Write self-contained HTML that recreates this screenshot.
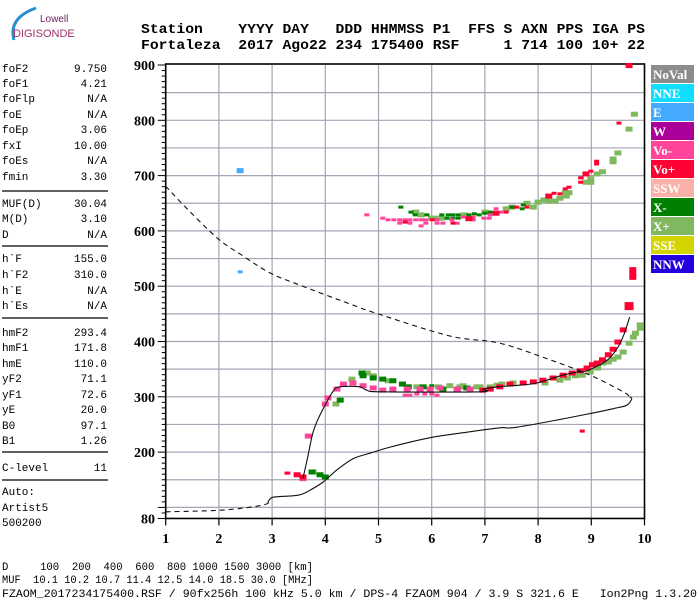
<!DOCTYPE html>
<html><head><meta charset="utf-8"><style>
html,body{margin:0;padding:0;background:#fff;}
svg{display:block;}
.m{font-family:"Liberation Mono",monospace;}
.b{font-family:"Liberation Serif",serif;font-weight:bold;}
</style></head><body>
<svg id="chart" width="700" height="600" viewBox="0 0 700 600" xmlns="http://www.w3.org/2000/svg">
<g>
<path d="M14 40 Q8 18 36 8" stroke="#2a8fd0" stroke-width="3" fill="none"/>
<text x="40" y="22" font-family="Liberation Sans,sans-serif" font-size="10" fill="#702060">Lowell</text>
<text x="13" y="37" font-family="Liberation Sans,sans-serif" font-size="11" fill="#a0306a">DIGISONDE</text>
</g>
<g class="m" font-weight="bold" font-size="14">
<text x="141" y="33" textLength="504" lengthAdjust="spacingAndGlyphs" xml:space="preserve">Station    YYYY DAY   DDD HHMMSS P1  FFS S AXN PPS IGA PS</text>
<text x="141" y="49" textLength="504" lengthAdjust="spacingAndGlyphs" xml:space="preserve">Fortaleza  2017 Ago22 234 175400 RSF     1 714 100 10+ 22</text>
</g>
<g id="side" class="m" font-size="11"></g>
<g id="plot"></g>
<g id="legend"></g>
<g class="m" font-size="11">
<text x="2" y="570" textLength="311" lengthAdjust="spacingAndGlyphs" xml:space="preserve">D     100  200  400  600  800 1000 1500 3000 [km]</text>
<text x="2" y="583" textLength="311" lengthAdjust="spacingAndGlyphs" xml:space="preserve">MUF  10.1 10.2 10.7 11.4 12.5 14.0 18.5 30.0 [MHz]</text>
<text x="2" y="597" textLength="695" lengthAdjust="spacingAndGlyphs" xml:space="preserve">FZAOM_2017234175400.RSF / 90fx256h 100 kHz 5.0 km / DPS-4 FZAOM 904 / 3.9 S 321.6 E   Ion2Png 1.3.20</text>
</g>
</svg>
<script>
const xTicks=[1,2,3,4,5,6,7,8,9,10];
const yTickLabels=[900,800,700,600,500,400,300,200];
const paramNames=["foF2","foF1","foFlp","foE","foEp","fxI","foEs","fmin","MUF(D)","M(D)","D","h`F","h`F2","h`E","h`Es","hmF2","hmF1","hmE","yF2","yF1","yE","B0","B1","C-level","Auto:","Artist5","500200"];
const paramValues=["9.750","4.21","N/A","N/A","3.06","10.00","N/A","3.30","30.04","3.10","N/A","155.0","310.0","N/A","N/A","293.4","171.8","110.0","71.1","72.6","20.0","97.1","1.26","11","","",""];
const legendNames=["NoVal","NNE","E","W","Vo-","Vo+","SSW","X-","X+","SSE","NNW"];
const legendColors=["#8c8c8c","#11ddff","#44aaff","#aa0099","#ff4499","#ff0033","#f8b0a8","#008000","#80b860","#d4d400","#2200dd"];
// traces
const virtF=[3.58,3.67,3.77,3.90,4.14,4.28,4.65,4.78,5.07,6.91,6.97,7.25,7.66,7.98,8.42,8.74,8.84,9.04,9.31,9.49,9.61,9.72];
const virtH=[153,191,236,267,309,318,318,312,309,309,314,318,321,325,338,345,345,352,367,388,412,444];
const realF=[2.92,2.96,3.05,3.49,3.71,3.96,4.22,4.52,4.84,5.22,5.97,6.59,7.28,7.60,8.84,9.48,9.67,9.76,9.72];
const realH=[109,115,119,122,131,146,168,188,198,209,226,235,244,245,267,280,285,296,300];
const dashF=[1.0,1.33,1.97,2.40,2.96,3.52,4.46,4.99,6.34,7.28,8.22,8.98,9.60,9.72];
const dashH=[681,647,587,558,524,502,468,450,410,397,367,339,309,300];
const dashLowF=[1.0,2.03,2.77,2.96];
const dashLowH=[92,95,103,110];
// echoes
const voPlusF=[9.71,9.52,9.10,9.10,8.90,8.99,8.80,8.80,9.78,9.78,9.78,9.71,9.60,9.50,9.41,9.32,9.21,9.11,9.02,8.92,8.79,8.64,8.47,8.28,8.09,7.91,7.72,7.47,7.28,7.10,6.96,8.83,3.28,3.47,3.58,5.50,6.01,6.40,6.70,7.21,7.40,7.60,7.79,8.20,8.30,8.41,8.51,8.58,8.81];
const voPlusH=[899,795,726,721,703,708,696,688,530,522,516,464,421,399,386,376,367,361,358,352,347,343,339,334,330,327,325,323,318,314,312,238,162,159,155,616,620,614,622,632,634,643,643,663,668,667,676,679,696];
const voPlusA=[2,1,1,1,2,1,1,1,2,2,2,3,2,2,2,2,2,2,2,2,2,2,2,2,2,2,2,2,2,2,2,1,1,2,2,1,1,1,2,2,1,1,1,2,1,1,1,1,1];
const voMinusF=[4.78,5.08,5.18,5.29,5.40,5.40,5.50,5.59,5.59,5.70,5.80,5.80,5.89,5.89,6.10,6.10,6.21,6.38,6.48,6.59,6.78,6.78,6.98,7.08,7.21,7.30,7.10,3.68,3.58,4.00,4.05,4.22,4.34,4.52,4.71,4.90,5.08,5.27,5.54,5.78,5.97,6.16,6.48,6.72,5.50,5.59,5.72,5.87,6.00,6.10,3.30];
const voMinusH=[629,623,620,620,620,614,620,620,614,620,620,609,620,614,620,614,614,620,614,625,620,625,623,623,640,634,629,229,152,287,298,314,323,325,320,316,312,314,314,314,314,316,314,314,303,303,305,305,305,303,162];
const voMinusA=[1,1,1,1,1,1,1,1,1,1,1,1,1,1,1,1,1,1,1,1,1,1,1,1,1,1,1,2,2,2,2,2,2,2,2,2,2,2,2,2,2,2,2,2,1,1,1,1,1,1,1];
const xMinusF=[3.75,3.90,4.00,4.28,4.69,4.71,4.90,5.08,5.27,5.45,5.56,5.84,6.21,6.48,6.66,6.00,5.42,5.61,5.69,5.91,6.19,6.31,6.40,6.50,6.29,6.40,6.50,6.70,6.80,6.89,7.00,7.10,7.51,7.72,7.70];
const xMinusH=[164,159,155,294,343,338,334,332,329,323,318,318,314,314,316,320,643,634,629,629,629,629,629,629,623,623,623,629,631,629,632,634,643,647,640];
const xMinusA=[2,2,2,2,2,2,2,2,2,2,2,2,2,2,2,1,1,1,1,1,1,1,1,1,1,1,1,1,1,1,1,1,1,1,1];
const xPlusF=[9.81,9.71,9.50,9.41,9.41,9.21,9.11,8.99,8.99,8.90,8.51,8.58,8.53,8.41,8.32,8.21,8.11,8.00,7.91,7.79,7.51,7.40,7.00,6.61,6.19,6.10,6.00,5.80,5.70,3.77,4.20,4.50,4.79,4.90,5.18,5.45,5.72,6.12,6.34,6.59,6.91,7.23,6.53,6.85,7.10,7.32,7.53,8.13,8.41,8.55,8.70,8.83,8.98,9.12,9.22,9.32,9.41,9.50,9.60,9.71,9.79,9.83,9.92,9.92];
const xPlusH=[811,784,741,730,725,707,703,694,688,688,669,669,663,659,654,654,656,652,643,650,643,640,634,629,623,623,623,629,634,164,287,332,343,338,329,323,318,318,320,320,318,321,318,318,318,323,325,325,330,334,338,339,345,352,361,363,368,372,381,397,408,415,424,430];
const eF=[2.40,2.40];
const eH=[709,526];
const eA=[2,1];

const NS="http://www.w3.org/2000/svg";
function xS(f){return 165.7+(f-1)*53.2;}
function yS(h){return 65+(900-h)*0.553;}
function mk(tag,attrs,parent){const e=document.createElementNS(NS,tag);for(const k in attrs)e.setAttribute(k,attrs[k]);parent.appendChild(e);return e;}

const side=document.getElementById('side');
const rowY=[72,87,102,118,133,149,164,180,207,222,238,262,278,294,309,336,351,367,382,398,413,429,444,471,495,511,526];
paramNames.forEach((n,i)=>{
  const t=mk('text',{x:2,y:rowY[i]},side);t.textContent=n;
  
  
  if(paramValues[i]!==""){
    const v=mk('text',{x:107,y:rowY[i],'text-anchor':'end'},side);v.textContent=paramValues[i];
    
    
  }
});
[191,246,318,452,480].forEach(y=>{
  const l=mk('line',{x1:2,x2:108,y1:y,y2:y,stroke:'#000','stroke-width':1.2},side);
  
  
});

const plot=document.getElementById('plot');
for(let f=2;f<=9;f++){
  const g=mk('line',{x1:xS(f),x2:xS(f),y1:yS(900),y2:yS(80),stroke:'#a4a4b4','stroke-width':1.2},plot);
  
  
}
for(let h=100;h<900;h+=50){
  const g=mk('line',{x1:xS(1),x2:xS(10),y1:yS(h),y2:yS(h),stroke:'#a4a4b4','stroke-width':1.2},plot);
  
  
}
for(let h=80;h<=900;h+=10){
  const major=(h%100===0)||h===80;
  const t=mk('line',{x1:xS(1)-(major?8:4),x2:xS(1),y1:yS(h),y2:yS(h),stroke:'#000','stroke-width':1},plot);
  
  
}
yTickLabels.concat([80]).forEach(h=>{
  const t=mk('text',{x:155,y:yS(h)+5,'text-anchor':'end','font-size':14,class:'b'},plot);t.textContent=h;
  
  
});
xTicks.forEach(f=>{
  const t=mk('line',{x1:xS(f),x2:xS(f),y1:yS(80),y2:yS(80)+7,stroke:'#000','stroke-width':1.2},plot);
  
  
  const l=mk('text',{x:xS(f),y:543,'text-anchor':'middle','font-size':14,class:'b'},plot);l.textContent=f;
  
  
});
const fr=mk('rect',{x:xS(1),y:yS(900)-1,width:xS(10)-xS(1),height:yS(80)-yS(900)+1,fill:'none',stroke:'#000','stroke-width':1.6},plot);



function line(F,H,name,dash){
  const P=F.map((f,i)=>[xS(f),yS(H[i])]);
  let d='M'+P[0][0].toFixed(1)+' '+P[0][1].toFixed(1);
  for(let i=0;i<P.length-1;i++){
    const p0=P[Math.max(0,i-1)],p1=P[i],p2=P[i+1],p3=P[Math.min(P.length-1,i+2)];
    const c1=[p1[0]+(p2[0]-p0[0])/6,p1[1]+(p2[1]-p0[1])/6];
    const c2=[p2[0]-(p3[0]-p1[0])/6,p2[1]-(p3[1]-p1[1])/6];
    d+=' C'+c1[0].toFixed(1)+' '+c1[1].toFixed(1)+' '+c2[0].toFixed(1)+' '+c2[1].toFixed(1)+' '+p2[0].toFixed(1)+' '+p2[1].toFixed(1);
  }
  const p=mk('path',{d:d,fill:'none',stroke:'#111','stroke-width':1.1},plot);
  if(dash)p.setAttribute('stroke-dasharray','5 4');
  
  
}
function echoes(F,H,A,color,name){
  const sz=[[4,3],[5,3],[7,5],[9,8]];
  F.forEach((f,i)=>{
    const a=A&&A[i]?A[i]:2;const s=sz[a];
    const r=mk('rect',{x:xS(f)-s[0]/2,y:yS(H[i])-s[1]/2,width:s[0],height:s[1],fill:color},plot);
    
    
  });
}
echoes(xPlusF,xPlusH,null,'#80b860','echo-x-plus');
echoes(xMinusF,xMinusH,xMinusA,'#008000','echo-x-minus');
echoes(voMinusF,voMinusH,voMinusA,'#ff4499','echo-vo-minus');
echoes(voPlusF,voPlusH,voPlusA,'#ff0033','echo-vo-plus');
echoes(eF,eH,eA,'#44aaff','echo-e');
line(dashF,dashH,'profile-extrapolation-dashed',true);
line(dashLowF,dashLowH,'profile-bottom-dashed',true);
line(realF,realH,'true-height-profile',false);
line(virtF,virtH,'virtual-height-trace',false);

const lg=document.getElementById('legend');
legendNames.forEach((n,i)=>{
  const y=65+i*19;
  const r=mk('rect',{x:651,y:y,width:43,height:18,fill:legendColors[i]},lg);
  
  
  const t=mk('text',{x:653,y:y+14,fill:'#fff','font-size':13,class:'b'},lg);t.textContent=n;
  
  
});
</script>
</body></html>
